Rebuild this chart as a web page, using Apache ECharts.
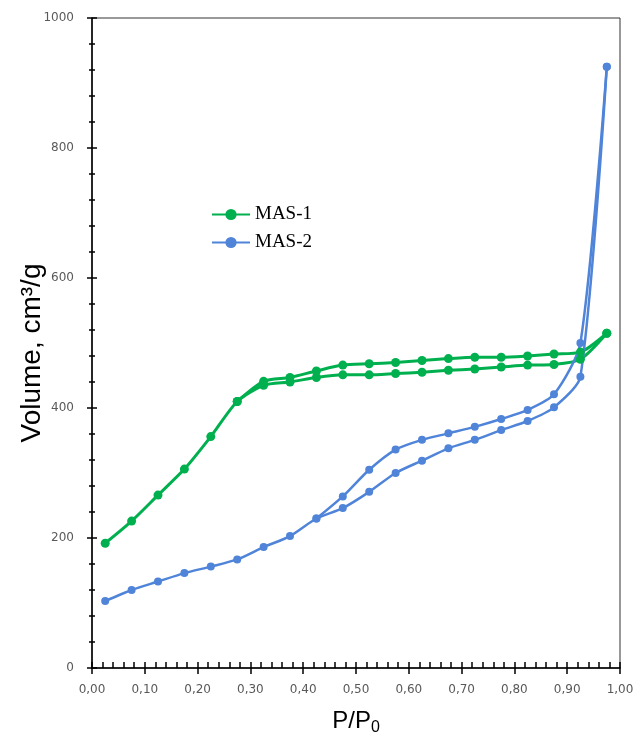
<!DOCTYPE html>
<html>
<head>
<meta charset="utf-8">
<script src="https://cdn.jsdelivr.net/npm/echarts@6/dist/echarts.min.js"></script>
<style>html,body{margin:0;padding:0;background:#fff}#c{width:636px;height:745px}</style>
</head>
<body>
<div id="c"></div>
<script>
// Relative pressure points, adsorption branch (ascending)
const adsPressure = [0.025, 0.075, 0.125, 0.175, 0.225, 0.275, 0.325, 0.375, 0.425, 0.475, 0.525, 0.575, 0.625, 0.675, 0.725, 0.775, 0.825, 0.875, 0.925, 0.975];
// MAS-1
const mas1Ads = [192, 226, 266, 306, 356, 410, 435, 440, 447, 451, 451, 453, 455, 458, 460, 463, 466, 467, 475, 515];
const mas1DesPressure = [0.975, 0.925, 0.875, 0.825, 0.775, 0.725, 0.675, 0.625, 0.575, 0.525, 0.475, 0.425, 0.375, 0.325, 0.275];
const mas1Des = [515, 486, 483, 480, 478, 478, 476, 473, 470, 468, 466, 457, 447, 441, 410];
// MAS-2
const mas2Ads = [103, 120, 133, 146, 156, 167, 186, 203, 230, 246, 271, 300, 319, 338, 351, 366, 380, 401, 448, 925];
const mas2DesPressure = [0.975, 0.925, 0.875, 0.825, 0.775, 0.725, 0.675, 0.625, 0.575, 0.525, 0.475, 0.425];
const mas2Des = [925, 500, 421, 397, 383, 371, 361, 351, 336, 305, 264, 230];

const seriesNames = ['MAS-1', 'MAS-2'];
const green = '#00b04f';
const blue = '#4f84d9';

function pairs(xs, ys) { return xs.map((x, i) => [x, ys[i]]); }

const chart = echarts.init(document.getElementById('c'), null, {renderer: 'canvas'});
const labelFont = {color: '#595959', fontSize: 12, fontFamily: 'DejaVu Sans'};
const xFmt = v => v.toFixed(2).replace('.', ',');
const yFmt = v => String(v);

function lineSeries(name, data, color, size, width) {
  return {
    name: name, type: 'line', data: data, xAxisIndex: 0, yAxisIndex: 0,
    smooth: 0.25, symbol: 'circle', symbolSize: size,
    lineStyle: {color: color, width: width},
    itemStyle: {color: color},
    emphasis: {disabled: true}, animation: false
  };
}

chart.setOption({
  animation: false,
  grid: {left: 92, right: 16, top: 18, bottom: 77, show: true, borderColor: '#333', borderWidth: 1,
    containLabel: false, outerBoundsMode: 'none'},
  legend: {
    data: seriesNames, orient: 'vertical', left: 211, top: 205, padding: 0,
    itemWidth: 38, itemHeight: 14, itemGap: 9,
    textStyle: {fontFamily: 'Liberation Serif', fontSize: 19, color: '#000'}
  },
  xAxis: [
    {
      type: 'value', min: 0, max: 1, interval: 0.1, position: 'bottom',
      axisLine: {show: true, lineStyle: {color: '#000', width: 1.5}},
      axisTick: {show: true, length: 6, lineStyle: {color: '#000', width: 1.5}},
      minorTick: {show: false},
      splitLine: {show: false},
      axisLabel: Object.assign({margin: 16, formatter: xFmt}, labelFont),
      name: 'P/P{sub|0}', nameLocation: 'middle', nameGap: 41, nameMoveOverlap: false,
      nameTextStyle: {fontFamily: 'Liberation Sans', fontSize: 24, color: '#000',
        rich: {sub: {fontFamily: 'Liberation Sans', fontSize: 16, color: '#000', verticalAlign: 'bottom', padding: [0,0,-3,0]}}}
    },
    {
      type: 'value', min: 0, max: 1, interval: 0.1, position: 'bottom',
      axisLine: {show: false},
      axisTick: {show: true, inside: true, length: 6, lineStyle: {color: '#000', width: 1.5}},
      minorTick: {show: true, splitNumber: 5, length: 6, lineStyle: {color: '#000', width: 1.5}},
      splitLine: {show: false}, axisLabel: {show: false}
    }
  ],
  yAxis: [
    {
      type: 'value', min: 0, max: 1000, interval: 200, position: 'left',
      axisLine: {show: true, lineStyle: {color: '#000', width: 1.5}},
      axisTick: {show: true, length: 5, lineStyle: {color: '#000', width: 1.5}},
      minorTick: {show: true, splitNumber: 5, length: 3, lineStyle: {color: '#000', width: 1.5}},
      splitLine: {show: false},
      axisLabel: Object.assign({margin: 18, formatter: yFmt}, labelFont),
      name: 'Volume, cm³/g', nameLocation: 'middle', nameGap: 46, nameRotate: 90, nameMoveOverlap: false,
      nameTextStyle: {fontFamily: 'Liberation Sans', fontSize: 28, color: '#000', padding: [0, 20, 0, 0]}
    },
    {
      type: 'value', min: 0, max: 1000, interval: 200, position: 'left',
      axisLine: {show: false},
      axisTick: {show: true, inside: true, length: 5, lineStyle: {color: '#000', width: 1.5}},
      minorTick: {show: true, splitNumber: 5, length: 3, lineStyle: {color: '#000', width: 1.5}},
      splitLine: {show: false}, axisLabel: {show: false}
    }
  ],
  series: [
    lineSeries(seriesNames[0], pairs(adsPressure, mas1Ads), green, 9, 3),
    lineSeries(seriesNames[0], pairs(mas1DesPressure, mas1Des), green, 9, 3),
    lineSeries(seriesNames[1], pairs(adsPressure, mas2Ads), blue, 8, 2.5),
    lineSeries(seriesNames[1], pairs(mas2DesPressure, mas2Des), blue, 8, 2.5)
  ]
});
</script>
</body>
</html>
